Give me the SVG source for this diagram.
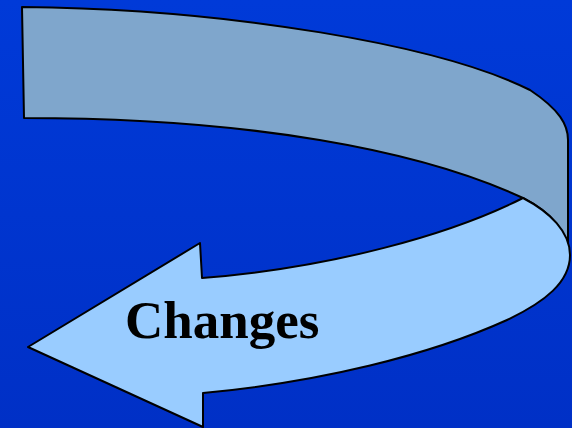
<svg xmlns="http://www.w3.org/2000/svg" width="572" height="428" viewBox="0 0 572 428">
  <defs>
    <linearGradient id="bg" x1="0" y1="0" x2="0" y2="1">
      <stop offset="0" stop-color="#003ad8"/>
      <stop offset="1" stop-color="#0030c6"/>
    </linearGradient>
  </defs>
  <style>
    .band { stroke: #000; stroke-width: 2; stroke-linejoin: round; }
    .label { font-family: "Liberation Serif", "Times New Roman", serif; font-weight: bold; font-size: 53px; fill: #000; }
  </style>
  <rect x="0" y="0" width="572" height="428" fill="url(#bg)"/>
  <g id="upper-band">
    <path class="band" fill="#7fa6cc" d="M22,7 C230,9 440,45 530,90 C560,110 568,125 568,140 L568,255 C568,230 550,212 523,198 C420,150 250,118 24,118 Z"/>
  </g>
  <g id="lower-arrow">
    <path class="band" fill="#99ccff" d="M523,198 C450,235 330,268 202,278 L200,243 L28,347 L203,427 L203,393 C320,382 430,355 507,320 C545,302 570,282 570,255 C570,232 550,212 523,198 Z"/>
    <text class="label" x="125" y="338">Changes</text>
  </g>
</svg>
